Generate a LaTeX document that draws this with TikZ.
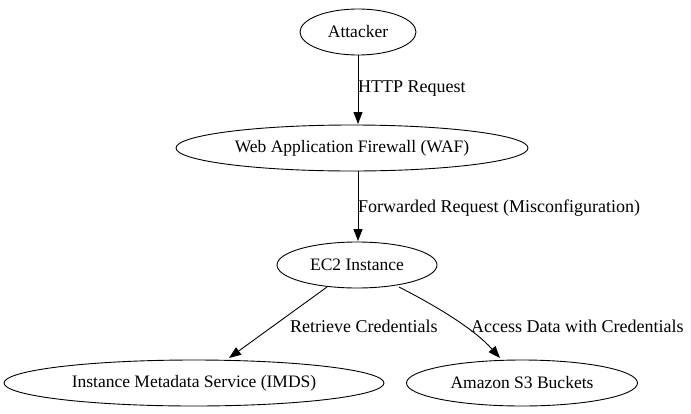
\documentclass[tikz,border=0pt]{standalone}
\usepackage{fontspec}
\setmainfont{Liberation Serif}
\usetikzlibrary{shapes.geometric,arrows.meta}
\begin{document}
\begin{tikzpicture}[x=1pt,y=-1pt,
  nd/.style={draw,ellipse,line width=0.9pt,inner sep=0pt,minimum height=46pt,font=\fontsize{17.5}{20}\selectfont},
  edge/.style={draw,line width=0.9pt,-{Triangle[length=12pt,width=9pt]}},
  lbl/.style={font=\fontsize{18}{20}\selectfont,anchor=west,inner sep=0pt}]
\useasboundingbox (0,0) rectangle (691,413);
\node[nd,minimum width=116pt] (att) at (358,32) {Attacker};
\node[nd,minimum width=352pt] (waf) at (352,148) {Web Application Firewall (WAF)};
\node[nd,minimum width=160pt] (ec2) at (357,265) {EC2 Instance};
\node[nd,minimum width=380pt] (imds) at (194,383) {Instance Metadata Service (IMDS)};
\node[nd,minimum width=231pt] (s3) at (522,383) {Amazon S3 Buckets};
\coordinate (a1) at (358,55);
\coordinate (a2) at (358,124);
\coordinate (b1) at (358,171);
\coordinate (b2) at (358,241);
\draw[edge] (a1) -- (a2);
\draw[edge] (b1) -- (b2);
\coordinate (c1) at (327,287);
\coordinate (c2) at (229,358);
\coordinate (d1) at (399,287);
\coordinate (d2) at (500,358);
\draw[edge] (c1) -- (c2);
\draw[edge] (d1) .. controls (440,308) and (475,330) .. (d2);
\node[lbl] (l1) at (358,89) {HTTP Request};
\node[lbl] (l2) at (358,208) {Forwarded Request (Misconfiguration)};
\node[lbl] (l3) at (290,326) {Retrieve Credentials};
\node[lbl] (l4) at (471,326) {Access Data with Credentials};
\end{tikzpicture}
\end{document}
